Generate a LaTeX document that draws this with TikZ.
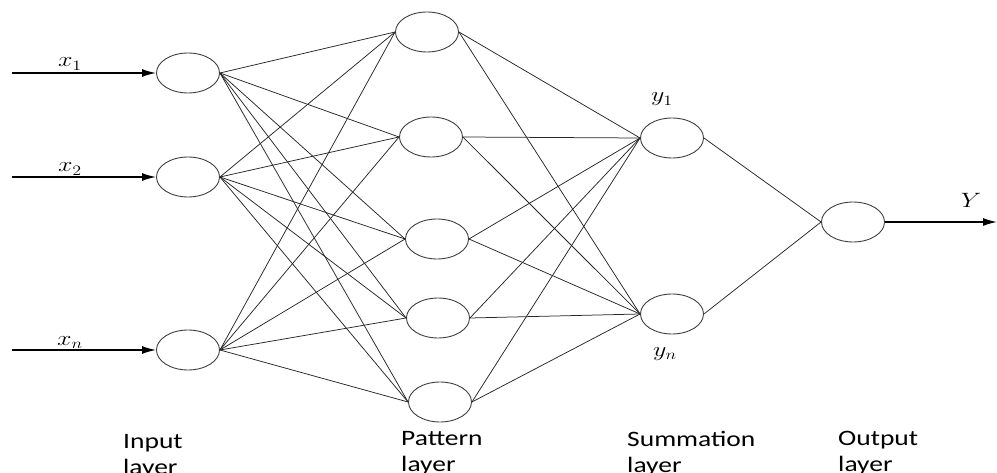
\documentclass[tikz,border=0pt]{standalone}
\usepackage{fontspec}
\newfontfamily\labelfont{Carlito}
\usetikzlibrary{shapes.geometric,arrows.meta}
% labels are set slightly wide
\newcommand\wide[1]{\scalebox{1.25}[1]{#1}}
\begin{document}
\begin{tikzpicture}[x=1pt,y=-1pt,
  neuron/.style={ellipse, draw=black!75, line width=0.9pt,
    minimum width=63pt, minimum height=40pt, inner sep=0pt},
  link/.style={draw=black!85, line width=0.75pt},
  feed/.style={line width=1.4pt, -{Latex[length=14pt,width=8pt]}},
  mathlabel/.style={font=\fontsize{22}{22}\selectfont, inner sep=0pt, anchor=base},
  layername/.style={font=\labelfont\fontsize{22}{26}\selectfont,
    align=left, anchor=north west, inner sep=0pt}]

\useasboundingbox (0,0) rectangle (997,473);

% input layer
\node[neuron] (i1) at (188,73) {};
\node[neuron] (i2) at (188,177) {};
\node[neuron] (i3) at (188,350) {};

% pattern layer
\node[neuron] (p1) at (427,32) {};
\node[neuron] (p2) at (431,137) {};
\node[neuron] (p3) at (437,239) {};
\node[neuron] (p4) at (438,318) {};
\node[neuron] (p5) at (440,402) {};

% summation layer
\node[neuron] (s1) at (672,138) {};
\node[neuron] (s2) at (672,314) {};

% output layer
\node[neuron] (o) at (853,222) {};

% input feeds
\coordinate (in1) at (12,73);
\coordinate (in2) at (12,177);
\coordinate (in3) at (12,350);
\coordinate (yout) at (997,222);
\draw[feed] (in1) -- (i1.west);
\draw[feed] (in2) -- (i2.west);
\draw[feed] (in3) -- (i3.west);
\draw[feed] (o.east) -- (yout);

% connections
\foreach \i in {i1,i2,i3}
  \foreach \p in {p1,p2,p3,p4,p5}
    \draw[link] (\i.east) -- (\p.west);
\foreach \p in {p1,p2,p3,p4,p5}
  \foreach \s in {s1,s2}
    \draw[link] (\p.east) -- (\s.west);
\draw[link] (s1.east) -- (o.west);
\draw[link] (s2.east) -- (o.west);

% variable labels
\node[mathlabel] (lx1) at (70,67) {\wide{$x_1$}};
\node[mathlabel] (lx2) at (70,172) {\wide{$x_2$}};
\node[mathlabel] (lxn) at (70,345) {\wide{$x_n$}};
\node[mathlabel] (ly1) at (662,102) {\wide{$y_1$}};
\node[mathlabel] (lyn) at (665,356) {\wide{$y_n$}};
\node[mathlabel] (lY) at (971,208) {\wide{$Y$}};

% layer names
\node[layername] (nin) at (123,434) {\wide{Input}\\\wide{layer}};
\node[layername] (npat) at (401,431) {\wide{Pattern}\\\wide{layer}};
\node[layername] (nsum) at (627,431) {\wide{Summation}\\\wide{layer}};
\node[layername] (nout) at (838,431) {\wide{Output}\\\wide{layer}};
\end{tikzpicture}
\end{document}
